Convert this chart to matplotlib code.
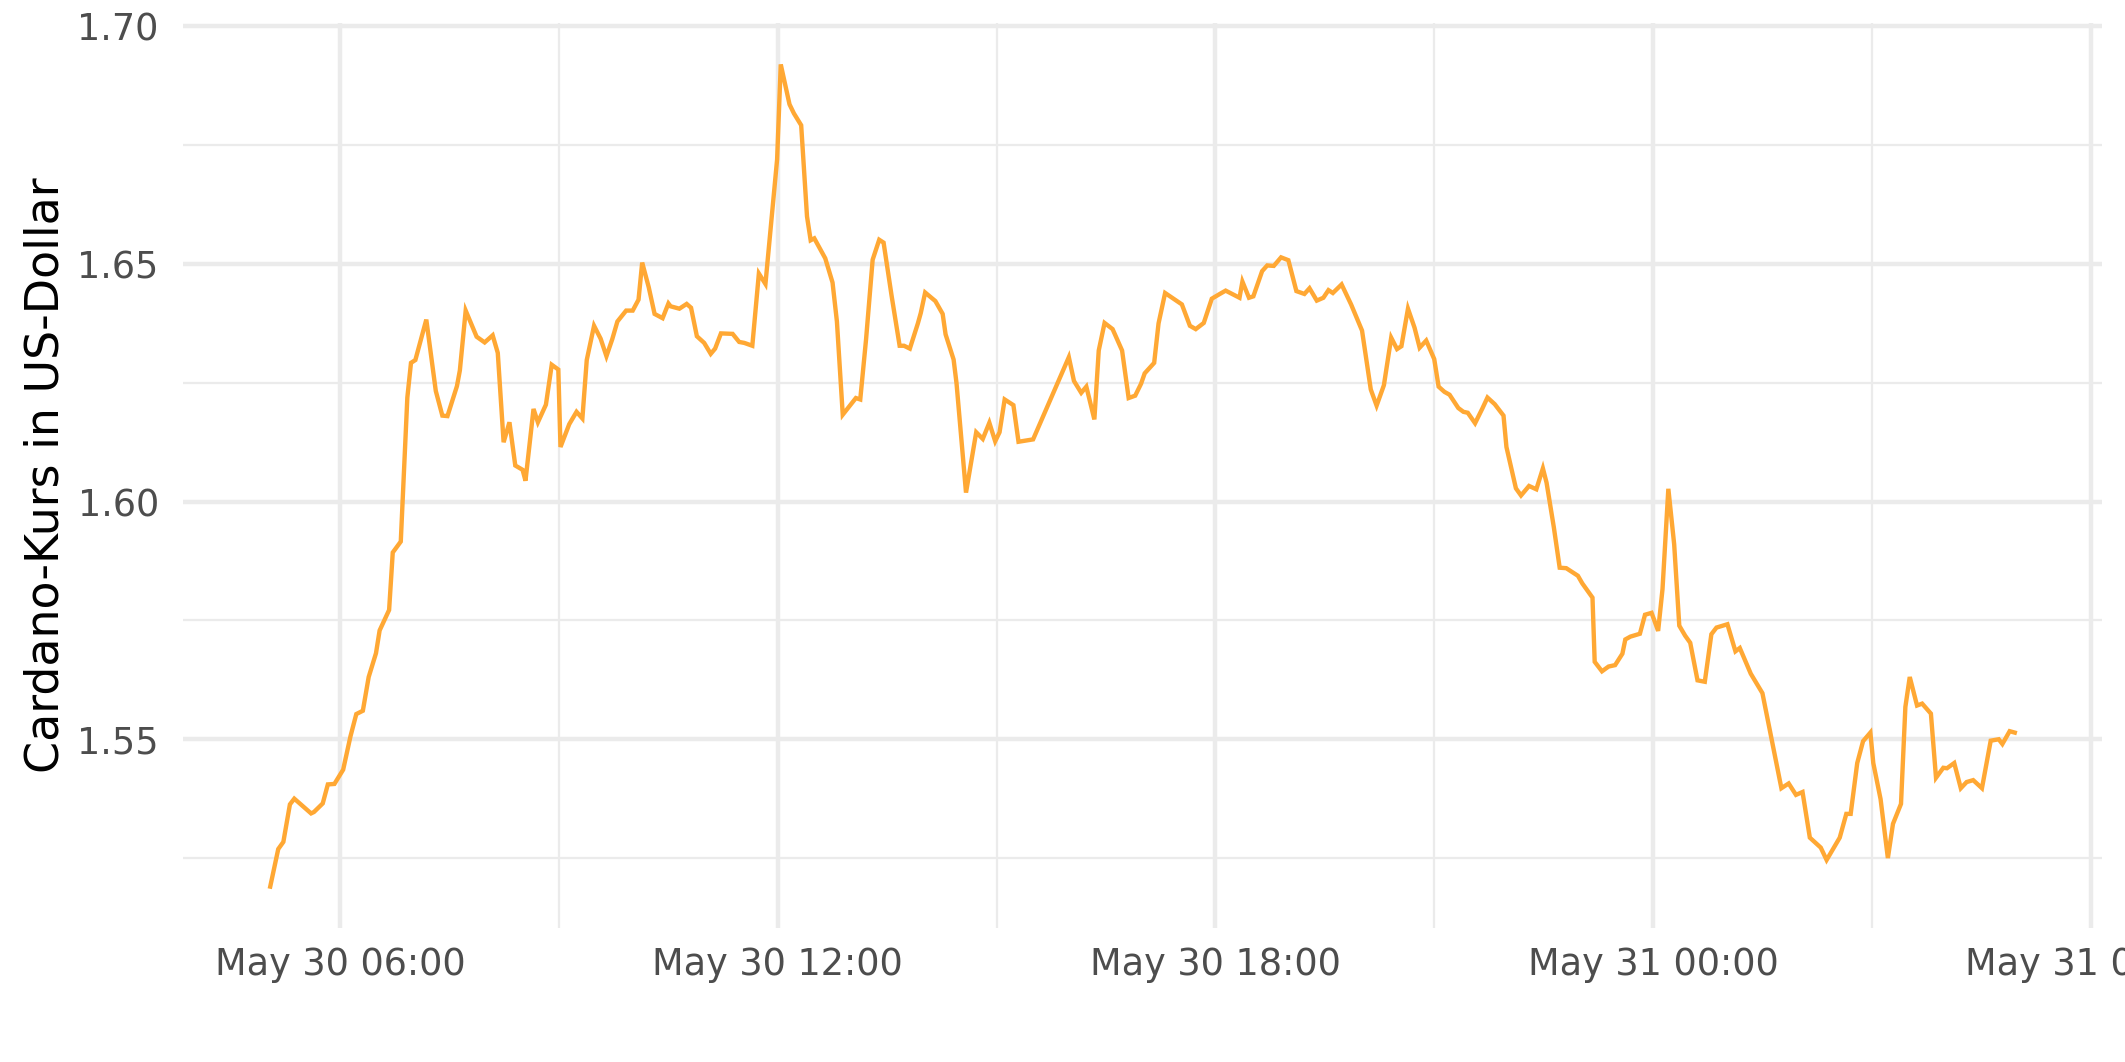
import pandas as pd
import matplotlib
matplotlib.use("Agg")
import matplotlib.pyplot as plt
import matplotlib.dates as mdates

# hours after 2021-05-30 00:00 and Cardano price in USD
hours = [
    5.04, 5.15, 5.22, 5.31, 5.37, 5.60, 5.64, 5.76, 5.83, 5.92,
    6.04, 6.14, 6.22, 6.31, 6.39, 6.49, 6.54, 6.67, 6.72, 6.83,
    6.92, 6.97, 7.03, 7.18, 7.31, 7.40, 7.47, 7.60, 7.64, 7.72,
    7.87, 7.98, 8.09, 8.16, 8.24, 8.32, 8.40, 8.50, 8.54, 8.65,
    8.71, 8.82, 8.90, 8.99, 9.02, 9.14, 9.24, 9.32, 9.38, 9.48,
    9.57, 9.65, 9.73, 9.80, 9.92, 10.01, 10.09, 10.14, 10.23, 10.31,
    10.42, 10.50, 10.53, 10.65, 10.75, 10.81, 10.89, 10.99, 11.08, 11.14,
    11.22, 11.38, 11.47, 11.54, 11.65, 11.74, 11.83, 11.99, 12.04, 12.16,
    12.22, 12.32, 12.40, 12.45, 12.50, 12.65, 12.75, 12.81, 12.89, 13.07,
    13.13, 13.21, 13.30, 13.39, 13.45, 13.56, 13.67, 13.73, 13.81, 13.92,
    13.96, 14.02, 14.16, 14.26, 14.30, 14.41, 14.45, 14.58, 14.72, 14.81,
    14.90, 14.98, 15.04, 15.11, 15.23, 15.30, 15.50, 15.99, 16.06, 16.16,
    16.23, 16.34, 16.40, 16.48, 16.59, 16.72, 16.81, 16.90, 16.98, 17.03,
    17.16, 17.22, 17.31, 17.54, 17.65, 17.73, 17.84, 17.95, 18.06, 18.14,
    18.33, 18.37, 18.46, 18.52, 18.64, 18.71, 18.80, 18.90, 19.00, 19.11,
    19.22, 19.29, 19.39, 19.48, 19.55, 19.61, 19.73, 19.86, 20.01, 20.13,
    20.21, 20.31, 20.41, 20.49, 20.55, 20.64, 20.73, 20.80, 20.89, 21.00,
    21.06, 21.14, 21.21, 21.33, 21.40, 21.46, 21.56, 21.66, 21.73, 21.83,
    21.95, 21.99, 22.12, 22.19, 22.30, 22.40, 22.49, 22.54, 22.64, 22.72,
    22.81, 22.88, 22.97, 23.03, 23.17, 23.20, 23.30, 23.39, 23.48, 23.58,
    23.62, 23.69, 23.82, 23.89, 23.98, 24.07, 24.13, 24.21, 24.29, 24.36,
    24.44, 24.51, 24.61, 24.71, 24.80, 24.87, 25.02, 25.13, 25.19, 25.34,
    25.50, 25.76, 25.86, 25.96, 26.05, 26.15, 26.30, 26.38, 26.56, 26.65,
    26.71, 26.80, 26.88, 26.98, 27.02, 27.12, 27.22, 27.29, 27.40, 27.46,
    27.52, 27.62, 27.69, 27.81, 27.88, 27.98, 28.03, 28.13, 28.22, 28.30,
    28.39, 28.51, 28.63, 28.74, 28.79, 28.89, 28.96,
]
price = [
    1.5190, 1.5269, 1.5284, 1.5363, 1.5375, 1.5344, 1.5347, 1.5365, 1.5405, 1.5406,
    1.5436, 1.5506, 1.5553, 1.5560, 1.5631, 1.5681, 1.5729, 1.5772, 1.5893, 1.5916,
    1.6219, 1.6292, 1.6298, 1.6383, 1.6233, 1.6181, 1.6180, 1.6243, 1.6276, 1.6402,
    1.6347, 1.6335, 1.6350, 1.6313, 1.6125, 1.6167, 1.6076, 1.6067, 1.6044, 1.6195,
    1.6167, 1.6204, 1.6288, 1.6278, 1.6115, 1.6163, 1.6189, 1.6175, 1.6298, 1.6370,
    1.6343, 1.6306, 1.6342, 1.6379, 1.6402, 1.6402, 1.6425, 1.6503, 1.6451, 1.6395,
    1.6386, 1.6417, 1.6411, 1.6406, 1.6416, 1.6408, 1.6348, 1.6334, 1.6311, 1.6322,
    1.6354, 1.6353, 1.6336, 1.6334, 1.6328, 1.6480, 1.6458, 1.6720, 1.6920, 1.6836,
    1.6817, 1.6792, 1.6600, 1.6550, 1.6554, 1.6512, 1.6461, 1.6379, 1.6183, 1.6218,
    1.6215, 1.6342, 1.6509, 1.6551, 1.6545, 1.6433, 1.6328, 1.6328, 1.6322, 1.6375,
    1.6397, 1.6440, 1.6422, 1.6395, 1.6352, 1.6299, 1.6249, 1.6019, 1.6146, 1.6132,
    1.6166, 1.6127, 1.6146, 1.6215, 1.6203, 1.6126, 1.6131, 1.6304, 1.6254, 1.6229,
    1.6242, 1.6173, 1.6318, 1.6376, 1.6363, 1.6318, 1.6218, 1.6223, 1.6248, 1.6270,
    1.6292, 1.6375, 1.6439, 1.6415, 1.6370, 1.6363, 1.6376, 1.6427, 1.6437, 1.6444,
    1.6429, 1.6463, 1.6429, 1.6432, 1.6485, 1.6497, 1.6496, 1.6514, 1.6508, 1.6443,
    1.6437, 1.6449, 1.6423, 1.6429, 1.6445, 1.6439, 1.6457, 1.6415, 1.6360, 1.6236,
    1.6202, 1.6245, 1.6345, 1.6321, 1.6327, 1.6406, 1.6366, 1.6324, 1.6339, 1.6300,
    1.6242, 1.6231, 1.6225, 1.6197, 1.6189, 1.6187, 1.6165, 1.6196, 1.6219, 1.6205,
    1.6181, 1.6115, 1.6028, 1.6013, 1.6033, 1.6026, 1.6070, 1.6040, 1.5946, 1.5861,
    1.5860, 1.5853, 1.5844, 1.5828, 1.5798, 1.5663, 1.5643, 1.5653, 1.5656, 1.5680,
    1.5710, 1.5716, 1.5722, 1.5762, 1.5766, 1.5728, 1.5816, 1.6027, 1.5910, 1.5739,
    1.5718, 1.5703, 1.5624, 1.5621, 1.5721, 1.5735, 1.5742, 1.5685, 1.5692, 1.5638,
    1.5597, 1.5397, 1.5407, 1.5383, 1.5389, 1.5293, 1.5272, 1.5246, 1.5293, 1.5343,
    1.5343, 1.5450, 1.5496, 1.5514, 1.5450, 1.5374, 1.5250, 1.5322, 1.5364, 1.5568,
    1.5631, 1.5571, 1.5575, 1.5554, 1.5419, 1.5440, 1.5439, 1.5450, 1.5397, 1.5410,
    1.5414, 1.5397, 1.5497, 1.5500, 1.5490, 1.5517, 1.5514,
]
yticks = [1.55, 1.60, 1.65, 1.70]
yminor = [1.525, 1.575, 1.625, 1.675]

times = pd.Timestamp("2021-05-30") + pd.to_timedelta(hours, unit="h")

plt.rcParams["font.family"] = "DejaVu Sans"

fig = plt.figure(figsize=(2125 / 300, 1062 / 300), dpi=300)
ax = fig.add_axes([183 / 2125, 1 - 927.7 / 1062, 1919 / 2125, 904.4 / 1062])

ax.plot(times, price, color="#FFA834", lw=1.05, solid_joinstyle="miter")
ax.margins(x=0.05, y=0.05)

ax.xaxis.set_major_locator(mdates.HourLocator(byhour=[0, 6, 12, 18]))
ax.xaxis.set_minor_locator(mdates.HourLocator(byhour=[3, 9, 15, 21]))
ax.xaxis.set_major_formatter(mdates.DateFormatter("%b %d %H:%M"))
ax.set_yticks(yticks)
ax.set_yticks(yminor, minor=True)
ax.set_yticklabels([f"{v:.2f}" for v in yticks])

ax.grid(which="major", color="#EBEBEB", lw=1.07)
ax.grid(which="minor", color="#EBEBEB", lw=0.53)
ax.set_axisbelow(True)
for s in ax.spines.values():
    s.set_visible(False)
ax.tick_params(which="both", length=0)
ax.tick_params(axis="x", labelsize=8.8, labelcolor="#4D4D4D", pad=4.5)
ax.tick_params(axis="y", labelsize=8.8, labelcolor="#4D4D4D", pad=5.8)

ax.set_ylabel("Cardano-Kurs in US-Dollar", fontsize=11, color="black", va="center")
ax.yaxis.set_label_coords(-0.0715, 0.5)

fig.savefig("out.png", dpi=300)
